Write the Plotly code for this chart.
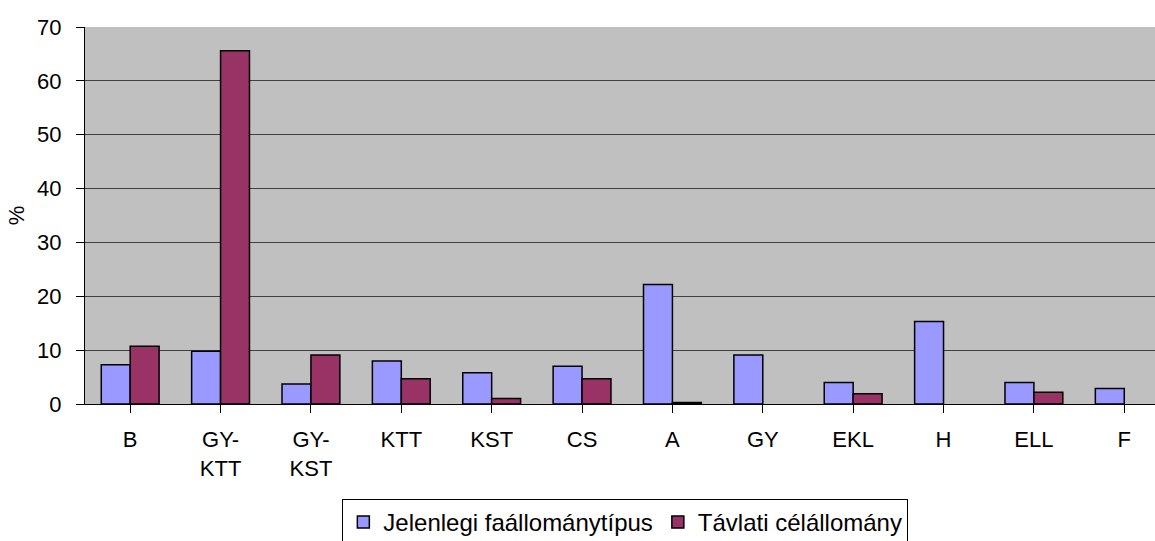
import plotly.graph_objects as go

categories = ["B", "GY-<br>KTT", "GY-<br>KST", "KTT", "KST", "CS", "A", "GY", "EKL", "H", "ELL", "F"]
jelenlegi = [7.3, 9.8, 3.7, 8.0, 5.8, 7.0, 22.2, 9.1, 4.0, 15.3, 4.0, 2.9]
tavlati = [10.7, 65.6, 9.1, 4.7, 1.0, 4.7, 0.3, 0, 1.9, 0, 2.2, 0]
series_names = ["Jelenlegi faállománytípus", "Távlati célállomány"]
y_ticks = [0, 10, 20, 30, 40, 50, 60, 70]

x_idx = list(range(len(categories)))


def outline_widths(vals):
    return [1.5 if v > 0 else 0 for v in vals]


fig = go.Figure()
fig.add_trace(go.Bar(x=x_idx, y=jelenlegi, name=series_names[0],
                     marker=dict(color="#9999FF",
                                 line=dict(color="black", width=outline_widths(jelenlegi)))))
fig.add_trace(go.Bar(x=x_idx, y=tavlati, name=series_names[1],
                     marker=dict(color="#993366",
                                 line=dict(color="black", width=outline_widths(tavlati)))))

font = dict(family="Liberation Sans, Arial, sans-serif", size=22, color="black")

fig.update_layout(
    width=1155, height=541,
    margin=dict(l=85, r=0, t=27, b=137, autoexpand=False),
    paper_bgcolor="white", plot_bgcolor="#C0C0C0",
    font=font,
    barmode="group", bargap=0.36, bargroupgap=0,
    showlegend=True,
    legend=dict(orientation="h", x=0.505, xanchor="center", y=-0.252, yanchor="top",
                bordercolor="black", borderwidth=1, font=dict(size=24),
                itemwidth=30, tracegroupgap=0, traceorder="normal"),
    xaxis=dict(tickmode="array", tickvals=x_idx, ticktext=categories,
               range=[-0.5, 11.34], showgrid=False, showline=True, linecolor="black",
               linewidth=1, ticks="outside", ticklen=8, tickcolor="black",
               tickson="boundaries", zeroline=False, automargin=False,
               ticklabelstandoff=8, tickfont=dict(size=22)),
    yaxis=dict(range=[0, 70], tickvals=y_ticks, showgrid=True, gridcolor="#404040",
               gridwidth=1, showline=True, linecolor="black", linewidth=1,
               ticks="outside", ticklen=8, tickcolor="black", zeroline=False,
               automargin=False, ticklabelstandoff=10, tickfont=dict(size=22),
               title=dict(text="%", standoff=6, font=dict(size=22))),
)

fig.write_html("out.html", config={"displayModeBar": False},
               post_script="document.body.style.margin='0';document.body.style.overflow='hidden';")
